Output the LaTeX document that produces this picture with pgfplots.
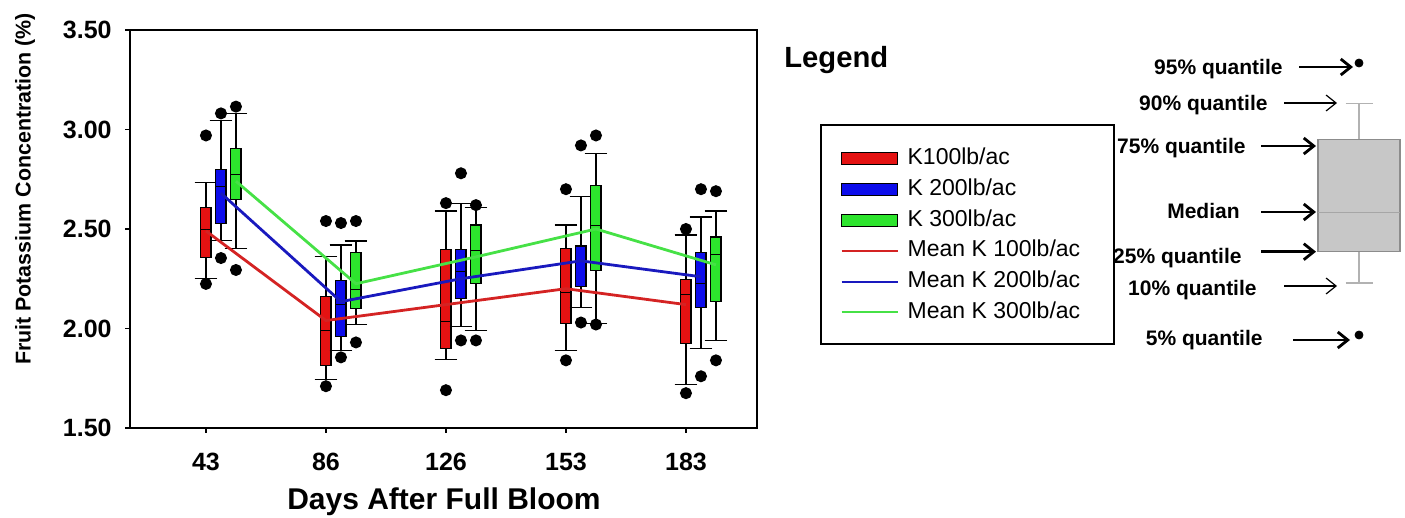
\documentclass[border=0pt]{standalone}
\usepackage{fontspec}
\setmainfont{Liberation Sans}
\usepackage{pgfplots}
\pgfplotsset{compat=1.18}
\usepgfplotslibrary{statistics}
\usetikzlibrary{arrows.meta}
\definecolor{kred}{RGB}{228,18,18}
\definecolor{kblue}{RGB}{12,12,235}
\definecolor{kgreen}{RGB}{45,228,45}
\definecolor{mred}{RGB}{212,35,35}
\definecolor{mblue}{RGB}{25,25,190}
\definecolor{mgreen}{RGB}{70,225,70}
\pgfplotsset{
  kb/.style={fill=#1, draw=black, line width=0.6pt, mark=*, mark size=2.7pt,
    mark options={fill=black, draw=black, solid}, forget plot},
}
\begin{document}
\begin{tikzpicture}
\useasboundingbox (0,0) rectangle (702.5pt,-259pt);
\begin{axis}[
  at={(65pt,-214pt)}, anchor=south west,
  scale only axis, width=313.5pt, height=199pt,
  xmin=0.367, xmax=5.592, ymin=1.5, ymax=3.5,
  xtick={1,2,3,4,5}, xticklabels={43,86,126,153,183},
  ytick={1.5,2,2.5,3,3.5},
  /pgf/number format/fixed, /pgf/number format/fixed zerofill,
  /pgf/number format/precision=2,
  /pgf/number format/assume math mode=true,
  tick align=outside, xtick pos=bottom, ytick pos=left,
  major tick length=2.5pt,
  tick style={black, line width=0.6pt},
  axis line style={line width=0.8pt},
  ticklabel style={font=\bfseries\fontsize{12.5}{14}\selectfont},
  yticklabel style={inner sep=0pt, anchor=east, xshift=-6.5pt},
  xticklabel style={inner sep=0pt, anchor=north, yshift=-10pt},
  xlabel={Days After Full Bloom},
  xlabel style={font=\bfseries\fontsize{15}{17}\selectfont, inner sep=0pt,
    at={(axis description cs:0.5008,-0.206)}, anchor=base},
  ylabel={Fruit Potassium Concentration (\%)},
  ylabel style={font=\bfseries\fontsize{10.7}{12}\selectfont, inner sep=0pt,
    at={(axis description cs:-0.1675,0.6005)}, anchor=center},
  boxplot/draw direction=y,
  boxplot/box extend=0.085, boxplot/whisker extend=0.19,
  boxplot/every median/.style={draw=black, line width=0.5pt},
  clip=false,
  legend cell align=left,
  legend style={at={(axis description cs:1.1324,0.705)}, anchor=north west,
    draw=none, fill=none, font=\fontsize{11.5}{13}\selectfont,
    row sep=4.35pt, column sep=4.5pt, inner sep=0pt,
    nodes={inner sep=0pt, text height=8.5pt, text depth=2.5pt}},
]
% ---- 43 DAFB
\addplot[kb=kred, boxplot prepared={draw position=1, lower whisker=2.25, lower quartile=2.356, median=2.495, upper quartile=2.61, upper whisker=2.733}] table[row sep=\\,y index=0] {d\\2.97\\2.224\\};
\addplot[kb=kblue, boxplot prepared={draw position=1.125, lower whisker=2.441, lower quartile=2.529, median=2.716, upper quartile=2.80, upper whisker=3.044}] table[row sep=\\,y index=0] {d\\3.081\\2.354\\};
\addplot[kb=kgreen, boxplot prepared={draw position=1.25, lower whisker=2.403, lower quartile=2.649, median=2.775, upper quartile=2.906, upper whisker=3.08}] table[row sep=\\,y index=0] {d\\3.115\\2.294\\};
% ---- 86 DAFB
\addplot[kb=kred, boxplot prepared={draw position=2, lower whisker=1.745, lower quartile=1.816, median=1.99, upper quartile=2.16, upper whisker=2.36}] table[row sep=\\,y index=0] {d\\2.54\\1.71\\};
\addplot[kb=kblue, boxplot prepared={draw position=2.125, lower whisker=1.89, lower quartile=1.96, median=2.12, upper quartile=2.24, upper whisker=2.42}] table[row sep=\\,y index=0] {d\\2.53\\1.855\\};
\addplot[kb=kgreen, boxplot prepared={draw position=2.25, lower whisker=2.02, lower quartile=2.10, median=2.197, upper quartile=2.38, upper whisker=2.44}] table[row sep=\\,y index=0] {d\\2.54\\1.93\\};
% ---- 126 DAFB
\addplot[kb=kred, boxplot prepared={draw position=3, lower whisker=1.845, lower quartile=1.90, median=2.035, upper quartile=2.395, upper whisker=2.59}] table[row sep=\\,y index=0] {d\\2.63\\1.69\\};
\addplot[kb=kblue, boxplot prepared={draw position=3.125, lower whisker=2.01, lower quartile=2.15, median=2.285, upper quartile=2.395, upper whisker=2.63}] table[row sep=\\,y index=0] {d\\2.78\\1.94\\};
\addplot[kb=kgreen, boxplot prepared={draw position=3.25, lower whisker=1.99, lower quartile=2.225, median=2.39, upper quartile=2.52, upper whisker=2.61}] table[row sep=\\,y index=0] {d\\2.62\\1.94\\};
% ---- 153 DAFB
\addplot[kb=kred, boxplot prepared={draw position=4, lower whisker=1.89, lower quartile=2.025, median=2.18, upper quartile=2.40, upper whisker=2.52}] table[row sep=\\,y index=0] {d\\2.70\\1.84\\};
\addplot[kb=kblue, boxplot prepared={draw position=4.125, lower whisker=2.105, lower quartile=2.21, median=2.34, upper quartile=2.415, upper whisker=2.665}] table[row sep=\\,y index=0] {d\\2.92\\2.03\\};
\addplot[kb=kgreen, boxplot prepared={draw position=4.25, lower whisker=2.025, lower quartile=2.29, median=2.52, upper quartile=2.72, upper whisker=2.88}] table[row sep=\\,y index=0] {d\\2.97\\2.02\\};
% ---- 183 DAFB
\addplot[kb=kred, boxplot prepared={draw position=5, lower whisker=1.72, lower quartile=1.925, median=2.17, upper quartile=2.245, upper whisker=2.47}] table[row sep=\\,y index=0] {d\\2.50\\1.675\\};
\addplot[kb=kblue, boxplot prepared={draw position=5.125, lower whisker=1.90, lower quartile=2.105, median=2.227, upper quartile=2.38, upper whisker=2.56}] table[row sep=\\,y index=0] {d\\2.70\\1.76\\};
\addplot[kb=kgreen, boxplot prepared={draw position=5.25, lower whisker=1.94, lower quartile=2.135, median=2.37, upper quartile=2.46, upper whisker=2.59}] table[row sep=\\,y index=0] {d\\2.69\\1.84\\};
% ---- legend images for boxes
\addlegendimage{legend image code/.code={\draw[fill=kred,draw=black,line width=0.6pt] (0pt,-3pt) rectangle (28pt,3pt);}}
\addlegendentry{K100lb/ac}
\addlegendimage{legend image code/.code={\draw[fill=kblue,draw=black,line width=0.6pt] (0pt,-3pt) rectangle (28pt,3pt);}}
\addlegendentry{K 200lb/ac}
\addlegendimage{legend image code/.code={\draw[fill=kgreen,draw=black,line width=0.6pt] (0pt,-3pt) rectangle (28pt,3pt);}}
\addlegendentry{K 300lb/ac}
% ---- mean lines
\addplot[mred, line width=1.4pt, mark=none, legend image code/.code={\draw[mred,line width=1.1pt] (0pt,0pt) -- (28pt,0pt);}] coordinates {(1,2.49) (2,2.04) (3,2.12) (4,2.20) (5,2.12)};
\addlegendentry{Mean K 100lb/ac}
\addplot[mblue, line width=1.4pt, mark=none, legend image code/.code={\draw[mblue,line width=1.1pt] (0pt,0pt) -- (28pt,0pt);}] coordinates {(1.125,2.68) (2.125,2.135) (3.125,2.25) (4.125,2.34) (5.125,2.26)};
\addlegendentry{Mean K 200lb/ac}
\addplot[mgreen, line width=1.4pt, mark=none, legend image code/.code={\draw[mgreen,line width=1.1pt] (0pt,0pt) -- (28pt,0pt);}] coordinates {(1.25,2.74) (2.25,2.225) (3.25,2.36) (4.25,2.50) (5.25,2.32)};
\addlegendentry{Mean K 300lb/ac}
\end{axis}
% legend frame and title
\draw[line width=0.8pt] (410.5pt,-62.5pt) rectangle (557pt,-172pt);
\node[anchor=base west, inner sep=0pt, font=\bfseries\fontsize{14.6}{16}\selectfont] at (392pt,-33.8pt) {Legend};
% ---- quantile key
\begin{axis}[
  at={(550pt,-180pt)}, anchor=south west,
  scale only axis, width=152.5pt, height=160pt,
  xmin=1100, xmax=1405, ymin=40, ymax=360, y dir=reverse,
  hide axis, clip=false,
  boxplot/draw direction=y,
  boxplot/every box/.style={fill=black!22, draw=black!45, line width=0.6pt},
  boxplot/every whisker/.style={draw=black!30, line width=0.6pt},
  boxplot/every median/.style={draw=black!35, line width=0.5pt},
]
\addplot[mark=*, mark size=2pt, mark options={fill=black,draw=black},
  boxplot prepared={draw position=1359, lower whisker=103.3, lower quartile=139.3,
  median=212.7, upper quartile=251.7, upper whisker=283, box extend=82, whisker extend=27}]
  table[row sep=\\,y index=0] {d\\63\\335\\};
\begin{scope}[every node/.style={anchor=base east, inner sep=0pt, font=\bfseries\fontsize{10.5}{12}\selectfont}]
\node at (axis cs:1283,74.5) {95\% quantile};
\node at (axis cs:1268,110.8) {90\% quantile};
\node at (axis cs:1246,153.3) {75\% quantile};
\node at (axis cs:1240,218.5) {Median};
\node at (axis cs:1242,263.5) {25\% quantile};
\node at (axis cs:1257,295.5) {10\% quantile};
\node at (axis cs:1263,345.5) {5\% quantile};
\end{scope}
\begin{scope}[-{Straight Barb[length=5pt,width=8pt]}]
\draw[line width=1.4pt] (axis cs:1299,67) -- (axis cs:1353,67);
\draw[line width=0.6pt] (axis cs:1284,103) -- (axis cs:1337,103);
\draw[line width=1.4pt] (axis cs:1261,146) -- (axis cs:1316,146);
\draw[line width=1.4pt] (axis cs:1261,212) -- (axis cs:1316,212);
\draw[line width=1.4pt] (axis cs:1261,251.7) -- (axis cs:1316,251.7);
\draw[line width=0.6pt] (axis cs:1284,286) -- (axis cs:1337,286);
\draw[line width=1.4pt] (axis cs:1293,340) -- (axis cs:1350,340);
\end{scope}
\end{axis}
\end{tikzpicture}
\end{document}
